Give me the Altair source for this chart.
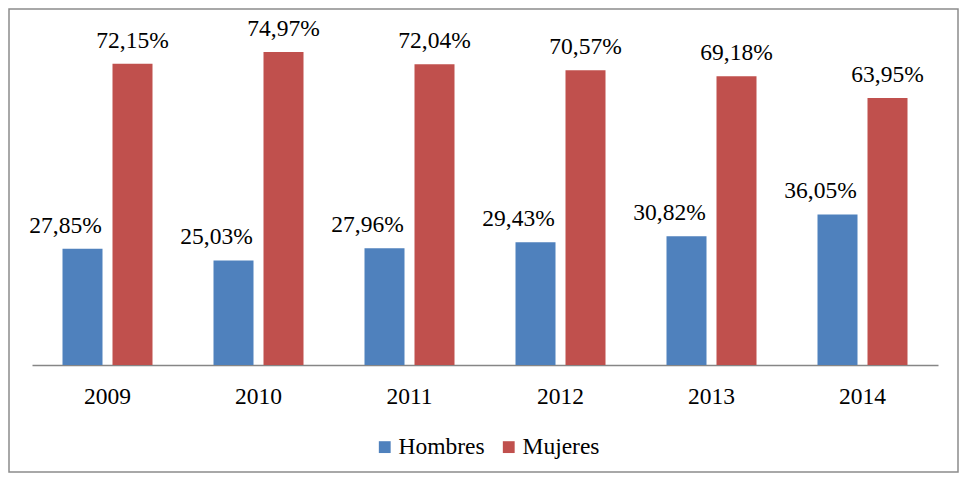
import altair as alt
import pandas as pd

years = ["2009", "2010", "2011", "2012", "2013", "2014"]
hombres = [27.85, 25.03, 27.96, 29.43, 30.82, 36.05]
mujeres = [72.15, 74.97, 72.04, 70.57, 69.18, 63.95]
series = ["Hombres", "Mujeres"]
colors = ["#4F81BD", "#C0504D"]

rows = []
for i, y in enumerate(years):
    for s, vals in zip(series, [hombres, mujeres]):
        v = vals[i]
        rows.append({"year": y, "serie": s, "value": v,
                     "label": f"{v:.2f}%".replace(".", ",")})
df = pd.DataFrame(rows)

FONT = "Liberation Serif"
W, H = 906, 334

x = alt.X("year:N", sort=years, title=None,
          scale=alt.Scale(paddingInner=0, paddingOuter=0),
          axis=alt.Axis(labelAngle=0, ticks=False, domainColor="#868686",
                        domainWidth=1.5, labelFont=FONT, labelFontSize=23.5,
                        labelColor="black", labelPadding=19))
xo = alt.XOffset("serie:N", sort=series,
                 scale=alt.Scale(paddingInner=0.2, paddingOuter=0.61))
y = alt.Y("value:Q", scale=alt.Scale(domain=[0, 80]), axis=None)
color = alt.Color("serie:N", sort=series,
                  scale=alt.Scale(domain=series, range=colors),
                  legend=alt.Legend(title=None, orient="none", direction="horizontal",
                                    legendX=341, legendY=404, symbolType="square",
                                    symbolSize=140, symbolStrokeWidth=0,
                                    labelFont=FONT, labelFontSize=23.5,
                                    labelColor="black", columnPadding=12,
                                    symbolOffset=0, labelOffset=2))

base = alt.Chart(df)
bars = base.mark_bar().encode(x=x, xOffset=xo, y=y, color=color)
texts_m = base.transform_filter(alt.datum.serie == "Mujeres").mark_text(
    baseline="alphabetic", dy=-16, font=FONT, fontSize=23.5, color="black").encode(
    x=x, xOffset=xo, y=y, text="label:N")
texts_h = base.transform_filter(alt.datum.serie == "Hombres").mark_text(
    baseline="alphabetic", dy=-16, dx=-17, font=FONT, fontSize=23.5,
    color="black").encode(x=x, xOffset=xo, y=y, text="label:N")

border = alt.Chart(pd.DataFrame({"a": [0]})).mark_rect(
    fill=None, stroke="#8c8c8c", strokeWidth=1.5).encode(
    x=alt.value(-23), x2=alt.value(926), y=alt.value(-22), y2=alt.value(441))

chart = alt.layer(border, bars, texts_m, texts_h).properties(
    width=W, height=H,
    autosize=alt.AutoSizeParams(type="none"),
    padding={"left": 24, "top": 23, "right": 21, "bottom": 108},
).configure(font=FONT).configure_text(font=FONT).configure_legend(
    labelFont=FONT).configure_view(stroke=None)

chart.save("out.html", embed_options={"renderer": "svg", "actions": False})
